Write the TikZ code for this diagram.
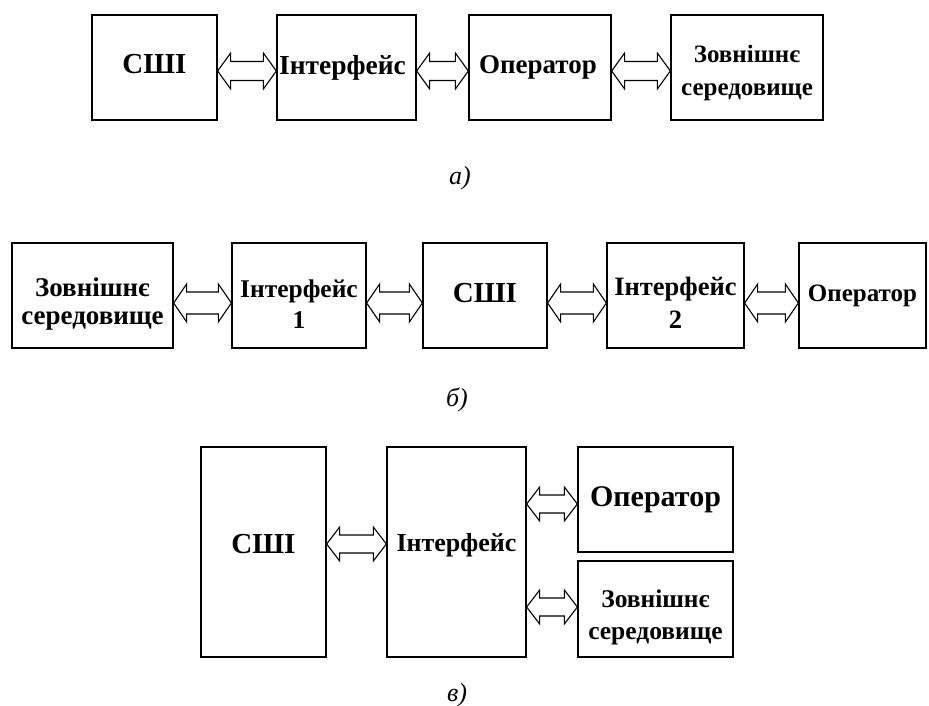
\documentclass[tikz,border=0pt]{standalone}
\usepackage{fontspec}
\setmainfont{Liberation Serif}
\usetikzlibrary{calc}

\tikzset{
  block/.style={draw, line width=1.3pt, inner sep=0pt},
  txt/.style={inner sep=0pt, align=center, font=\bfseries\fontsize{25}{32}\selectfont},
  fs/.style={font=\bfseries\fontsize{#1}{32}\selectfont},
  fsl/.style args={#1/#2}{font=\bfseries\fontsize{#1}{#2}\selectfont},
  biarrow/.style={draw, line width=1.1pt, fill=white, line join=miter},
  caption/.style={font=\itshape\fontsize{26}{30}\selectfont, inner sep=0pt}
}

% block given by left, top, right, bottom (px units, y downwards),
% with its caption set at the offset #7 from the centre
\newcommand\blk[8][]{%
  \node[block, minimum width={(#4-#2)*1pt}, minimum height={(#5-#3)*1pt}]
    (#6) at ({(#2+#4)/2},{(#3+#5)/2}) {};
  \node[txt, #1] (#6-t) at ($(#6)+(#7)$) {#8};}

% hollow double-headed arrow between two blocks at height #3
% #4 half width of the heads, #5 half width of the shaft
\newcommand\dblarrow[5]{%
  \coordinate (p) at (#1.east |- 0,#3);
  \coordinate (q) at (#2.west |- 0,#3);
  \draw[biarrow] (p) -- ($(p)+(13,-#4)$) -- ($(p)+(13,-#5)$)
    -- ($(q)+(-13,-#5)$) -- ($(q)+(-13,-#4)$) -- (q)
    -- ($(q)+(-13,#4)$) -- ($(q)+(-13,#5)$)
    -- ($(p)+(13,#5)$) -- ($(p)+(13,#4)$) -- cycle;}

\begin{document}
\begin{tikzpicture}[x=1pt,y=-1pt]
\useasboundingbox (0,0) rectangle (929,706);

% a) chain
\blk[fs=29]{92}{15}{217}{120}{a1}{0,-3}{СШІ}
\blk[fs=27.5]{277}{15}{416}{120}{a2}{-4,0}{Інтерфейс}
\blk[fs=27]{469}{15}{611}{120}{a3}{-2,0}{Оператор}
\blk[fsl=25/33]{671}{15}{823}{120}{a4}{0,5}{Зовнішнє\\середовище}
\dblarrow{a1}{a2}{71}{18}{9.5}
\dblarrow{a2}{a3}{71}{18}{9.5}
\dblarrow{a3}{a4}{71}{18}{9.5}
\node[caption] (capa) at (460,178) {а)};

% b) chain
\blk[fsl=27/28]{12}{243}{173}{348}{b1}{0,9}{Зовнішнє\\середовище}
\blk[fsl=25.5/31]{232}{243}{366}{348}{b2}{0,9}{Інтерфейс\\1}
\blk[fs=29]{423}{243}{547}{348}{b3}{0,-2}{СШІ}
\blk[fsl=26.5/33]{607}{243}{744}{348}{b4}{0,7}{Інтерфейс\\2}
\blk[fs=25]{799}{243}{926}{348}{b5}{0,0}{Оператор}
\dblarrow{b1}{b2}{303}{19}{11}
\dblarrow{b2}{b3}{303}{19}{11}
\dblarrow{b3}{b4}{303}{19}{11}
\dblarrow{b4}{b5}{303}{19}{11}
\node[caption] (capb) at (457,400) {б)};

% c) star around the interface
\blk[fs=29]{201}{447}{326}{657}{c1}{0,-8}{СШІ}
\blk[fs=26]{387}{447}{526}{657}{c2}{0,-7}{Інтерфейс}
\blk[fs=30]{578}{447}{733}{552}{c3}{0,0}{Оператор}
\blk[fsl=25.5/32]{578}{561}{733}{657}{c4}{0,8}{Зовнішнє\\середовище}
\dblarrow{c1}{c2}{544}{17}{9}
\dblarrow{c2}{c3}{504}{17}{9}
\dblarrow{c2}{c4}{607}{17}{9}
\node[caption] (capc) at (457,695) {в)};
\end{tikzpicture}
\end{document}
